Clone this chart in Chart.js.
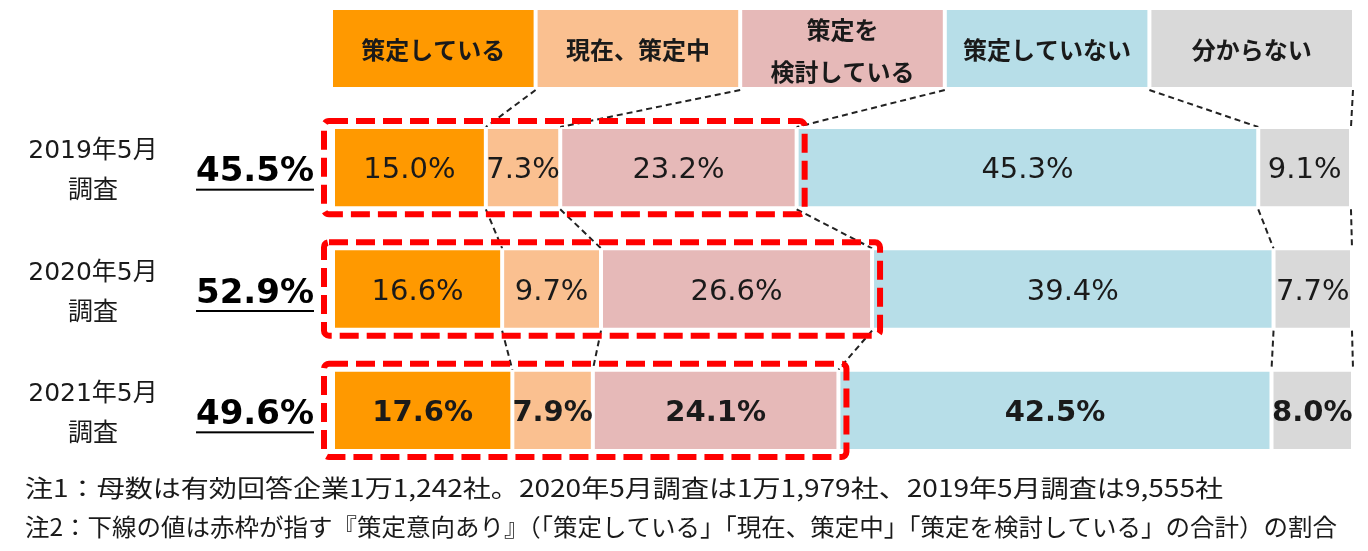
<!DOCTYPE html>
<html>
<head>
<meta charset="utf-8">
<script src="https://cdn.jsdelivr.net/npm/chart.js@4"></script>
<style>
  html, body { margin: 0; padding: 0; background: #fff; }
  #wrap { width: 1368px; height: 551px; position: relative; }
</style>
</head>
<body>
<div id="wrap"><canvas id="myChart"></canvas></div>
<script>
const categories = [["2019年5月", "調査"], ["2020年5月", "調査"], ["2021年5月", "調査"]];
const seriesNames = ["策定している", "現在、策定中", "策定を検討している", "策定していない", "分からない"];
const legendLines = [["策定している"], ["現在、策定中"], ["策定を", "検討している"], ["策定していない"], ["分からない"]];

const drafted = [15.0, 16.6, 17.6];
const drafting = [7.3, 9.7, 7.9];
const considering = [23.2, 26.6, 24.1];
const notDrafted = [45.3, 39.4, 42.5];
const unknown = [9.1, 7.7, 8.0];
const intentTotals = [45.5, 52.9, 49.6];

const notes = [
  "注1：母数は有効回答企業1万1,242社。2020年5月調査は1万1,979社、2019年5月調査は9,555社",
  "注2：下線の値は赤枠が指す『策定意向あり』（「策定している」「現在、策定中」「策定を検討している」の合計）の割合",
];

const colors = ["#FF9900", "#FAC090", "#E6B9B8", "#B7DEE8", "#D9D9D9"];
const series = [drafted, drafting, considering, notDrafted, unknown];

const myChart = document.getElementById("myChart");
const chartCtx = myChart.getContext("2d");

const cjk = '"Noto Sans CJK JP", sans-serif';
const latin = '"DejaVu Sans", "Noto Sans CJK JP", sans-serif';

// cumulative sums per row, used for connectors and red frames
const cumulative = categories.map((_, i) => {
  let sum = 0;
  return series.map((s) => (sum += s[i]));
});

const barBox = (chart, i) => {
  const el = chart.getDatasetMeta(0).data[i];
  const p = el.getProps(["y", "height"], true);
  return { top: p.y - p.height / 2 + 2, bottom: p.y + p.height / 2 - 2, mid: p.y };
};

const legendBoxes = (chart) => {
  const { left, right } = chart.chartArea;
  const gap = 4;
  const w = (right - left - gap * 4) / 5;
  return seriesNames.map((_, k) => ({ x: left + k * (w + gap), w, y: 10, h: 77 }));
};

const roundRect = (ctx, x, y, w, h, r) => {
  ctx.beginPath();
  ctx.moveTo(x + r, y);
  ctx.lineTo(x + w - r, y);
  ctx.arcTo(x + w, y, x + w, y + r, r);
  ctx.lineTo(x + w, y + h - r);
  ctx.arcTo(x + w, y + h, x + w - r, y + h, r);
  ctx.lineTo(x + r, y + h);
  ctx.arcTo(x, y + h, x, y + h - r, r);
  ctx.lineTo(x, y + r);
  ctx.arcTo(x, y, x + r, y, r);
  ctx.closePath();
};

const overlay = {
  id: "overlay",
  beforeDatasetsDraw(chart) {
    const ctx = chart.ctx;
    const xs = chart.scales.x;
    const boxes = legendBoxes(chart);
    ctx.save();
    ctx.strokeStyle = "#222";
    ctx.lineWidth = 2;
    ctx.setLineDash([6, 4]);
    // legend -> first row
    const first = barBox(chart, 0);
    cumulative[0].forEach((v, k) => {
      const sx = k < 4 ? (boxes[k].x + boxes[k].w + boxes[k + 1].x) / 2 : boxes[4].x + boxes[4].w + 1;
      ctx.beginPath();
      ctx.moveTo(sx, boxes[0].y + boxes[0].h + 3);
      ctx.lineTo(xs.getPixelForValue(v), first.top - 2);
      ctx.stroke();
    });
    // row -> row
    for (let i = 0; i < categories.length - 1; i++) {
      const a = barBox(chart, i);
      const b = barBox(chart, i + 1);
      cumulative[i].forEach((v, k) => {
        ctx.beginPath();
        ctx.moveTo(xs.getPixelForValue(v), a.bottom + 3);
        ctx.lineTo(xs.getPixelForValue(cumulative[i + 1][k]), b.top - 2);
        ctx.stroke();
      });
    }
    ctx.restore();
  },
  afterDatasetsDraw(chart) {
    const ctx = chart.ctx;
    const xs = chart.scales.x;
    ctx.save();

    // red dashed frames around the first three segments
    ctx.strokeStyle = "#FF0000";
    ctx.lineWidth = 6;
    ctx.setLineDash([19, 8]);
    categories.forEach((_, i) => {
      const b = barBox(chart, i);
      const x0 = xs.getPixelForValue(0) - 9;
      const x1 = xs.getPixelForValue(cumulative[i][2]) + 8;
      roundRect(ctx, x0, b.top - 8, x1 - x0, b.bottom - b.top + 16, 5);
      ctx.stroke();
    });
    ctx.setLineDash([]);

    // segment value labels
    ctx.textAlign = "center";
    ctx.textBaseline = "middle";
    ctx.fillStyle = "#1a1a1a";
    chart.data.datasets.forEach((ds, d) => {
      chart.getDatasetMeta(d).data.forEach((el, i) => {
        const p = el.getProps(["x", "y", "base"], true);
        ctx.font = (i === 2 ? "bold " : "") + "29px " + latin;
        ctx.fillText(ds.data[i].toFixed(1) + "%", (p.x + p.base) / 2, p.y + 3);
      });
    });

    // left labels and underlined totals
    categories.forEach((lines, i) => {
      const b = barBox(chart, i);
      ctx.font = "25px " + latin;
      ctx.fillStyle = "#1a1a1a";
      ctx.fillText(lines[0], 93, b.mid - 16);
      ctx.fillText(lines[1], 93, b.mid + 24);

      const txt = intentTotals[i].toFixed(1) + "%";
      ctx.font = "bold 34px " + latin;
      ctx.fillStyle = "#000";
      ctx.fillText(txt, 255, b.mid + 5);
      const w = ctx.measureText(txt).width;
      ctx.fillRect(255 - w / 2, b.mid + 21, w, 2);
    });
    ctx.restore();
  },
  afterDraw(chart) {
    const ctx = chart.ctx;
    const boxes = legendBoxes(chart);
    ctx.save();
    ctx.textAlign = "center";
    ctx.textBaseline = "middle";
    boxes.forEach((b, k) => {
      ctx.fillStyle = colors[k];
      ctx.fillRect(b.x, b.y, b.w, b.h);
      ctx.fillStyle = "#1a1a1a";
      ctx.font = "bold 24px " + cjk;
      const lines = legendLines[k];
      const cy = b.y + b.h / 2 + 1;
      if (lines.length === 1) {
        ctx.fillText(lines[0], b.x + b.w / 2, cy);
      } else {
        ctx.fillText(lines[0], b.x + b.w / 2, cy - 20);
        ctx.fillText(lines[1], b.x + b.w / 2, cy + 22);
      }
    });

    // footnotes, fitted to the reference widths
    ctx.textAlign = "left";
    ctx.fillStyle = "#1a1a1a";
    ctx.font = "24px " + cjk;
    const targets = [[1198, 488], [1312, 527]];
    notes.forEach((t, i) => {
      const w = ctx.measureText(t).width;
      ctx.save();
      ctx.translate(25, targets[i][1]);
      ctx.scale(targets[i][0] / w, 1);
      ctx.fillText(t, 0, 0);
      ctx.restore();
    });
    ctx.restore();
  },
};

new Chart(chartCtx, {
  type: "bar",
  data: {
    labels: categories,
    datasets: series.map((values, k) => ({
      label: seriesNames[k],
      data: values,
      backgroundColor: colors[k],
      borderColor: "#FFFFFF",
      borderWidth: 2,
      borderSkipped: false,
      categoryPercentage: 1,
      barPercentage: 0.67,
    })),
  },
  options: {
    indexAxis: "y",
    responsive: true,
    maintainAspectRatio: false,
    animation: false,
    layout: { padding: { left: 333, right: 16, top: 107, bottom: 80 } },
    scales: {
      x: { display: false, stacked: true, min: 0, max: 100 },
      y: { display: false, stacked: true },
    },
    plugins: {
      legend: { display: false },
      tooltip: { enabled: false },
    },
  },
  plugins: [overlay],
});
</script>
</body>
</html>
